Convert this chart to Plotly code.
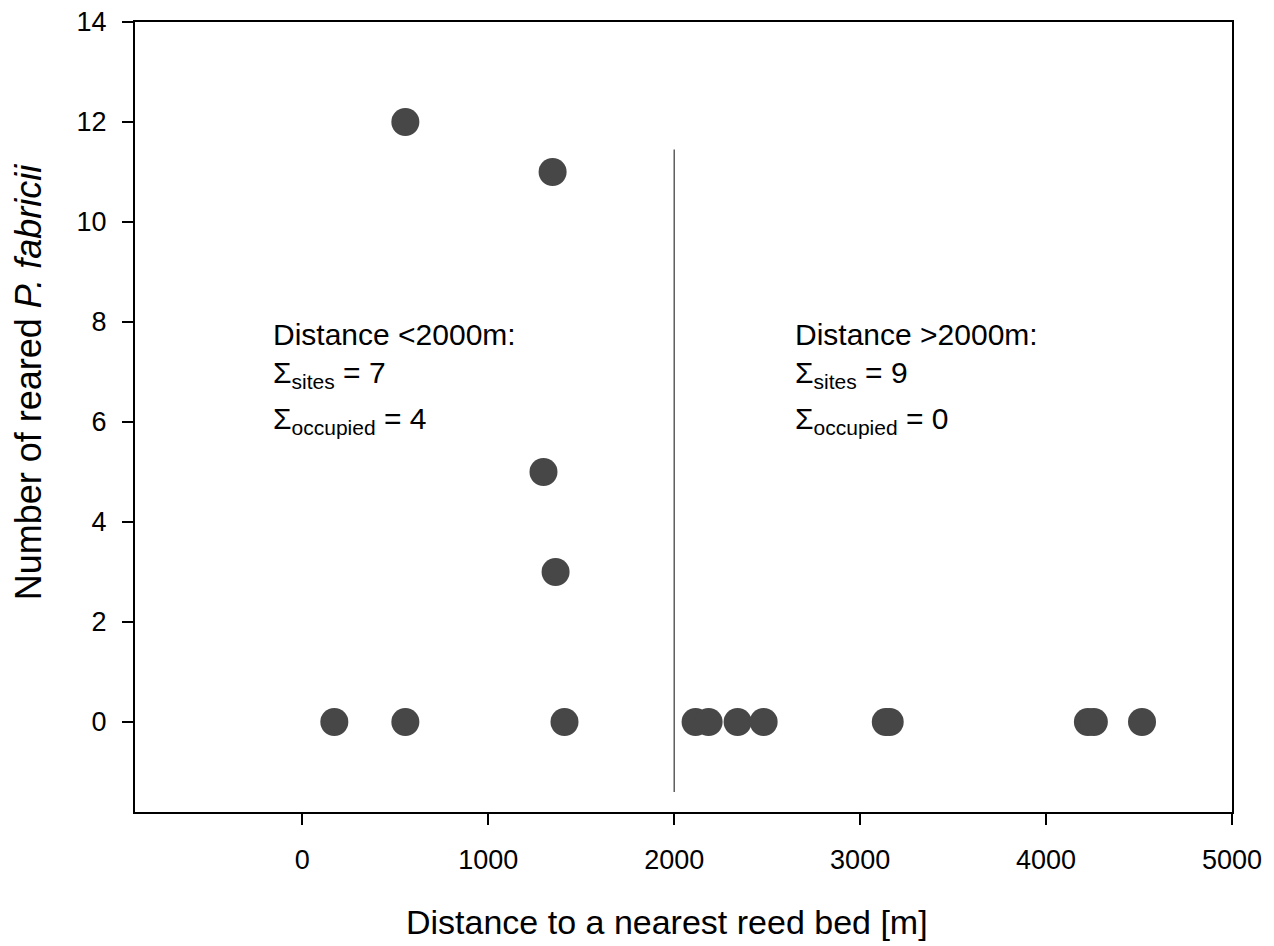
import plotly.graph_objects as go

# Data
distance_m = [554, 1346, 1297, 1362, 172, 554, 1410, 2115, 2185, 2341, 2481, 3138, 3159, 4225, 4257, 4516]
reared = [12, 11, 5, 3, 0, 0, 0, 0, 0, 0, 0, 0, 0, 0, 0, 0]
x_ticks = [0, 1000, 2000, 3000, 4000, 5000]
y_ticks = [0, 2, 4, 6, 8, 10, 12, 14]
threshold = 2000
threshold_span = [-1.4, 11.45]

FONT = "Liberation Sans, Arial, sans-serif"

fig = go.Figure()
fig.add_trace(go.Scatter(
    x=distance_m, y=reared, mode="markers",
    marker=dict(size=28, color="#474747", line=dict(width=0)),
    showlegend=False, cliponaxis=False,
))
fig.add_trace(go.Scatter(
    x=[threshold, threshold], y=threshold_span, mode="lines",
    line=dict(color="#444444", width=1.3), showlegend=False,
))

def block(x, lines, y_positions):
    for txt, yp in zip(lines, y_positions):
        fig.add_annotation(x=x, y=yp, xref="x", yref="y", text=txt,
                           showarrow=False, xanchor="left", yanchor="middle",
                           font=dict(family=FONT, size=30, color="black"))

ys = [7.76, 6.95, 6.03]
block(-168, ["Distance &lt;2000m:", "Σ<sub>sites</sub> = 7", "Σ<sub>occupied</sub> = 4"], ys)
block(2637, ["Distance &gt;2000m:", "Σ<sub>sites</sub> = 9", "Σ<sub>occupied</sub> = 0"], ys)

# Axis titles (placed as annotations to match the reference offsets)
fig.add_annotation(x=0.485, y=-0.139, xref="paper", yref="paper",
                   text="Distance to a nearest reed bed [m]", showarrow=False,
                   xanchor="center", yanchor="middle",
                   font=dict(family=FONT, size=34, color="black"))
fig.add_annotation(x=-0.0975, y=0.544, xref="paper", yref="paper",
                   text="Number of reared <i>P. fabricii</i>", showarrow=False,
                   textangle=-90, xanchor="center", yanchor="middle",
                   font=dict(family=FONT, size=36, color="black"))

fig.update_layout(
    width=1274, height=946,
    margin=dict(l=127, r=50, t=14, b=142),
    plot_bgcolor="white", paper_bgcolor="white",
    font=dict(family=FONT, color="black"),
)
fig.update_xaxes(
    range=[-900, 5000], tickvals=x_ticks, ticktext=[str(v) for v in x_ticks],
    ticks="outside", ticklen=11, tickwidth=1.5, tickcolor="black",
    showline=True, linecolor="black", linewidth=2, mirror=True,
    showgrid=False, zeroline=False, automargin=False,
    tickfont=dict(size=27, family=FONT), ticklabelstandoff=12,
    ticklabeloverflow="allow",
)
fig.update_yaxes(
    range=[-1.8, 14], tickvals=y_ticks, ticktext=[str(v) for v in y_ticks],
    ticks="outside", ticklen=11, tickwidth=1.5, tickcolor="black",
    showline=True, linecolor="black", linewidth=2, mirror=True,
    showgrid=False, zeroline=False, automargin=False,
    tickfont=dict(size=27, family=FONT), ticklabelstandoff=10,
    ticklabeloverflow="allow",
)

fig.write_html("out.html")
